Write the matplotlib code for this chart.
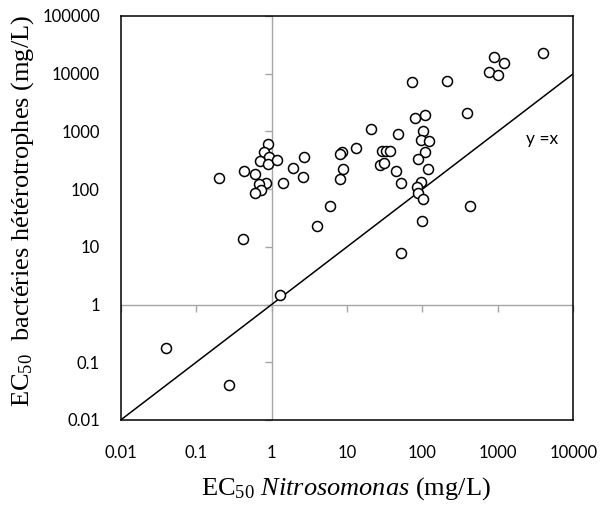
import matplotlib
matplotlib.use("Agg")
import matplotlib.pyplot as plt
import matplotlib.markers as mmarkers
import numpy as np

plt.rcParams['mathtext.fontset'] = 'custom'
plt.rcParams['mathtext.rm'] = 'Liberation Serif'
plt.rcParams['mathtext.it'] = 'Liberation Serif:italic'

# EC50 Nitrosomonas (x) and EC50 heterotrophic bacteria (y), mg/L
x_nitro = [0.20, 0.43, 0.61, 0.90, 0.79, 0.92, 0.71, 0.89, 1.19, 1.90,
           2.71, 2.58, 1.40, 0.84, 0.69, 0.72, 0.60,
           8.5, 8.15, 8.77, 8.0,
           13.3, 21, 47.5, 29.4, 32.9, 37.2, 27.4, 30.7, 44.7, 52,
           80.5, 109, 101, 95, 121, 109, 88, 119, 97, 85, 87.5, 103,
           73.5, 212, 391, 899, 1208, 771, 997, 3940,
           0.42, 1.3, 3.96, 6.0, 98, 52, 428, 0.04, 0.275]
y_hetero = [158, 206, 180, 605, 434, 364, 303, 276, 316, 235,
            356, 160, 128, 126, 121, 96, 86,
            434, 401, 223, 150,
            516, 1087, 891, 463, 463, 463, 258, 287, 206, 128,
            1687, 1901, 1004, 710, 682, 434, 328, 226, 133, 107, 85, 68,
            7262, 7477, 2110, 19700, 15500, 10570, 9490, 23100,
            13.5, 1.46, 22.7, 51, 28.3, 7.7, 51, 0.178, 0.040]

x_decades = [0.01, 0.1, 1, 10, 100, 1000, 10000]
y_decades = [0.01, 0.1, 1, 10, 100, 1000, 10000, 100000]
x_ticklabels = ['0.01', '0.1', '1', '10', '100', '1000', '10000']
y_ticklabels = ['0.01', '0.1', '1', '10', '100', '1000', '10000', '100000']
identity = [0.01, 10000]

fig = plt.figure(figsize=(6.01, 5.07), dpi=100)
ax = fig.add_axes([120.7 / 601, 87 / 507, 452.6 / 601, 404 / 507])
ax.set_xscale('log')
ax.set_yscale('log')
ax.set_xlim(0.01, 10000)
ax.set_ylim(0.01, 100000)

grey = '#a6a6a6'
# axes crossing at (1,1)
ax.axhline(1, color=grey, lw=1.0, zorder=1)
ax.axvline(1, color=grey, lw=1.0, zorder=1)
ax.plot(x_decades, [1] * len(x_decades), ls='none', marker=mmarkers.TICKDOWN,
        ms=5, mew=1.0, color=grey, zorder=1, clip_on=False)
ax.plot([1] * len(y_decades), y_decades, ls='none', marker=mmarkers.TICKLEFT,
        ms=5, mew=1.0, color=grey, zorder=1, clip_on=False)

# y = x line
ax.plot(identity, identity, color='black', lw=1.1, zorder=2)
ax.text(3800, 740, 'y =x', fontsize=12.5, family='Lato', ha='center', va='center')

ax.plot(x_nitro, y_hetero, ls='none', marker='o', ms=7.2, mfc='white',
        mec='black', mew=1.1, zorder=3)

ax.set_xticks(x_decades)
ax.set_xticklabels(x_ticklabels)
ax.set_yticks(y_decades)
ax.set_yticklabels(y_ticklabels)
ax.minorticks_off()
ax.tick_params(axis='both', length=0, labelsize=12)
ax.tick_params(axis='x', pad=18)
ax.tick_params(axis='y', pad=15)
for lab in ax.get_xticklabels() + ax.get_yticklabels():
    lab.set_family('Lato')

for s in ax.spines.values():
    s.set_color('black')
    s.set_linewidth(1.1)

fig.text(346 / 601, 1 - 489 / 507, r'EC$_{50}$ $\mathit{Nitrosomonas}$ (mg/L)',
         fontsize=19, family='Liberation Serif', ha='center', va='center')
fig.text(23 / 601, 1 - 211 / 507, r'EC$_{50}$  bactéries hétérotrophes (mg/L)',
         fontsize=19, family='Liberation Serif', ha='center', va='center',
         rotation=90)

fig.savefig('out.png', dpi=100)
